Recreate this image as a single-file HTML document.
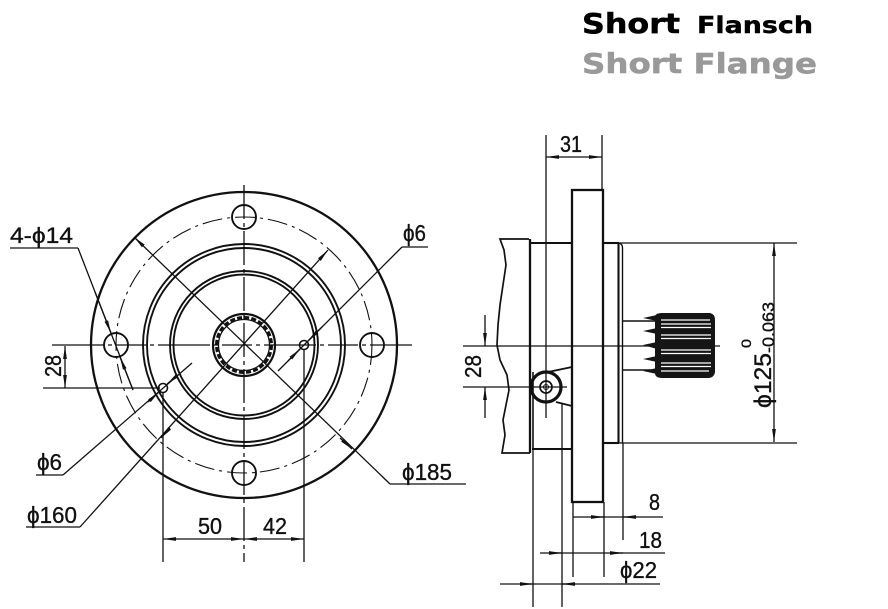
<!DOCTYPE html>
<html>
<head>
<meta charset="utf-8">
<style>
html,body{margin:0;padding:0;background:#fff;}
svg{display:block;}
.t{font-family:"Liberation Sans Narrow","Liberation Sans","DejaVu Sans",sans-serif;fill:#111;stroke:#111;stroke-width:0.35;}
</style>
</head>
<body>
<svg width="888" height="609" viewBox="0 0 888 609" xmlns="http://www.w3.org/2000/svg">
<defs>
<marker id="ar" viewBox="0 0 13 5" refX="13" refY="2.5" markerWidth="13" markerHeight="5" markerUnits="userSpaceOnUse" orient="auto-start-reverse">
<path d="M0,0.6 L13,2.5 L0,4.4z" fill="#111"/>
</marker>
</defs>
<rect width="888" height="609" fill="#fff"/>

<!-- Title -->
<g font-family="'DejaVu Sans','Liberation Sans',sans-serif" font-weight="bold">
<text x="582" y="33" font-size="28" fill="#000" stroke="#000" stroke-width="0.5" textLength="98" lengthAdjust="spacingAndGlyphs">Short</text>
<text x="697" y="33" font-size="23" fill="#000" stroke="#000" stroke-width="0.4" textLength="116" lengthAdjust="spacingAndGlyphs">Flansch</text>
<text x="582" y="73" font-size="28" fill="#999" stroke="#999" stroke-width="0.5" textLength="235" lengthAdjust="spacingAndGlyphs">Short Flange</text>
</g>

<!-- ============ LEFT VIEW ============ -->
<g fill="none" stroke="#111">
<circle cx="244" cy="345" r="153" stroke-width="2.3"/>
<circle cx="244" cy="345" r="128" stroke-width="1.1" stroke-dasharray="20 5 3 5"/>
<circle cx="244" cy="217" r="12" stroke-width="1.9"/>
<circle cx="116" cy="345" r="12" stroke-width="1.9"/>
<circle cx="372" cy="345" r="12" stroke-width="1.9"/>
<circle cx="244" cy="473" r="12" stroke-width="1.9"/>
<circle cx="244" cy="345" r="101" stroke-width="1.9"/>
<circle cx="244" cy="345" r="97" stroke-width="1.9"/>
<circle cx="244" cy="345" r="74" stroke-width="1.9"/>
<circle cx="244" cy="345" r="70.5" stroke-width="1.9"/>
<circle cx="244" cy="345" r="31" stroke-width="2.2"/>
<circle cx="244" cy="345" r="25.5" stroke-width="1.3"/>
<circle cx="244" cy="345" r="27.5" stroke-width="3" stroke-dasharray="5 2.2"/>
<circle cx="304" cy="345" r="4.5" stroke-width="1.6"/>
<circle cx="163" cy="388" r="4.5" stroke-width="1.6"/>
</g>

<g fill="none" stroke="#111" stroke-width="1.3">
<!-- center lines -->
<line x1="244" y1="185" x2="244" y2="562" stroke-dasharray="34 4 4 4"/>
<line x1="52" y1="345" x2="412" y2="345" stroke-dasharray="52 4 4 4 30 4 4 4"/>
<!-- 28 dim -->
<line x1="43" y1="388" x2="160" y2="388"/>
<path d="M65,346 L65,388" marker-start="url(#ar)" marker-end="url(#ar)"/>
<!-- 4-phi14 -->
<line x1="10" y1="248" x2="78" y2="248"/>
<line x1="78" y1="248" x2="133" y2="390"/>
<path d="M95,292 L111,333" marker-end="url(#ar)"/>
<path d="M133,390 L120,357" marker-end="url(#ar)"/>
<!-- phi185 -->
<path d="M134,237 L390,484" marker-start="url(#ar)"/>
<line x1="390" y1="484" x2="466" y2="484"/>
<path d="M340,438 L352,449" marker-end="url(#ar)"/>
<!-- phi160 -->
<path d="M328,250 L80,527" marker-start="url(#ar)"/>
<line x1="26" y1="527" x2="80" y2="527"/>
<path d="M170,428 L161,438" marker-end="url(#ar)"/>
<!-- phi6 upper -->
<line x1="402" y1="247" x2="428" y2="247"/>
<line x1="402" y1="247" x2="278" y2="371"/>
<path d="M322,327 L308,341" marker-end="url(#ar)"/>
<path d="M288,361 L300,349" marker-end="url(#ar)"/>
<!-- phi6 lower -->
<line x1="36" y1="475" x2="63" y2="475"/>
<line x1="63" y1="475" x2="192" y2="363"/>
<path d="M148,402 L159,392" marker-end="url(#ar)"/>
<path d="M178,375 L167,384" marker-end="url(#ar)"/>
<!-- 50 / 42 -->
<line x1="163" y1="392" x2="163" y2="562"/>
<line x1="304" y1="350" x2="304" y2="562"/>
<path d="M163,539 L244,539" marker-start="url(#ar)" marker-end="url(#ar)"/>
<path d="M244,539 L304,539" marker-start="url(#ar)" marker-end="url(#ar)"/>
</g>

<!-- left labels -->
<text class="t" x="10" y="243" font-size="22" textLength="63" lengthAdjust="spacingAndGlyphs">4-ϕ14</text>
<text class="t" x="403" y="241" font-size="23" textLength="23" lengthAdjust="spacingAndGlyphs">ϕ6</text>
<text class="t" x="37" y="470" font-size="23" textLength="25" lengthAdjust="spacingAndGlyphs">ϕ6</text>
<text class="t" x="27" y="523" font-size="23" textLength="50" lengthAdjust="spacingAndGlyphs">ϕ160</text>
<text class="t" x="402" y="480" font-size="23" textLength="50" lengthAdjust="spacingAndGlyphs">ϕ185</text>
<text class="t" x="198" y="534" font-size="23" textLength="24" lengthAdjust="spacingAndGlyphs">50</text>
<text class="t" x="263" y="534" font-size="23" textLength="24" lengthAdjust="spacingAndGlyphs">42</text>
<text class="t" font-size="23" textLength="22" lengthAdjust="spacingAndGlyphs" transform="translate(61,377) rotate(-90)">28</text>

<!-- ============ RIGHT VIEW ============ -->
<g fill="none" stroke="#111">
<!-- housing broken -->
<path d="M529,239 L500,239 L504,250 L506,265 L503,285 L500,305 L498,325 L497,345 L500,360 L507,375 L509,390 L506,405 L503,420 L505,435 L502,453 L530,453" stroke-width="1.7"/>
<line x1="530" y1="239" x2="530" y2="453" stroke-width="2.3"/>
<line x1="533" y1="372" x2="533" y2="449" stroke-width="1.6"/>
<!-- body -->
<line x1="530" y1="243" x2="572" y2="243" stroke-width="2.1"/>
<line x1="532" y1="449" x2="572" y2="449" stroke-width="2.1"/>
<!-- flange -->
<rect x="572" y="190" width="31" height="312" stroke-width="2.3"/>
<!-- pilot -->
<line x1="603" y1="243" x2="619" y2="243" stroke-width="2.1"/>
<line x1="603" y1="443" x2="619" y2="443" stroke-width="2.1"/>
<line x1="618.5" y1="243" x2="618.5" y2="443" stroke-width="2.1"/>
<path d="M619,243 Q622.5,244 622.5,248 L622.5,443" stroke-width="1.4"/>
<!-- pin -->
<circle cx="546" cy="387" r="15" stroke-width="3.2"/>
<circle cx="546" cy="387" r="6" stroke-width="1.7"/>
<circle cx="546" cy="387" r="2.5" stroke-width="1"/>
<line x1="548" y1="372" x2="572" y2="367" stroke-width="1.9"/>
<line x1="556" y1="402" x2="572" y2="406" stroke-width="1.9"/>
</g>

<g fill="none" stroke="#111" stroke-width="1.3">
<!-- shaft -->
<line x1="623" y1="321" x2="655" y2="321" stroke-width="1.6"/>
<line x1="623" y1="370" x2="655" y2="370" stroke-width="1.6"/>
<!-- center line -->
<line x1="463" y1="346" x2="720" y2="346"/>
<line x1="463" y1="387" x2="567" y2="387"/>
<!-- extension lines -->
<line x1="546" y1="135" x2="546" y2="418"/>
<line x1="602" y1="135" x2="602" y2="190"/>
<line x1="619" y1="243" x2="797" y2="243"/>
<line x1="619" y1="443" x2="797" y2="443"/>
<line x1="533" y1="449" x2="533" y2="607"/>
<line x1="562" y1="403" x2="562" y2="607"/>
<line x1="573" y1="502" x2="573" y2="577"/>
<line x1="604" y1="502" x2="604" y2="577"/>
<line x1="623" y1="443" x2="623" y2="540"/>
<!-- 31 -->
<path d="M546,157 L602,157" marker-start="url(#ar)" marker-end="url(#ar)"/>
<!-- 28 right -->
<path d="M485,315 L485,346" marker-end="url(#ar)"/>
<path d="M485,418 L485,387" marker-end="url(#ar)"/>
<!-- phi125 -->
<path d="M774,243 L774,442" marker-start="url(#ar)" marker-end="url(#ar)"/>
<!-- 8 -->
<line x1="573" y1="517" x2="663" y2="517"/>
<path d="M592,517 L604,517" marker-end="url(#ar)"/>
<path d="M635,517 L623,517" marker-end="url(#ar)"/>
<!-- 18 -->
<line x1="540" y1="553" x2="665" y2="553"/>
<path d="M550,553 L562,553" marker-end="url(#ar)"/>
<path d="M611,553 L623,553" marker-end="url(#ar)"/>
<!-- phi22 -->
<line x1="500" y1="584" x2="660" y2="584"/>
<path d="M521,584 L533,584" marker-end="url(#ar)"/>
<path d="M575,584 L562,584" marker-end="url(#ar)"/>
</g>

<!-- spline -->
<g>
<path d="M655,316 Q656,313 662,313 L710,313 Q715,314 715,320 L715,372 Q714,378 708,378 L662,378 Q656,378 655,374 Z" fill="#151515"/>
<path d="M643,318 L657,315 L657,321 Z M643,331 L657,328 L657,334 Z M643,345 L657,342 L657,349 Z M643,359 L657,356 L657,362 Z M643,371 L657,368 L657,374 Z" fill="#151515"/>
<g stroke="#fff" stroke-width="1.3">
<line x1="661" y1="320" x2="710" y2="320"/>
<line x1="661" y1="324" x2="711" y2="324"/>
<line x1="661" y1="327.5" x2="711" y2="327.5"/>
<line x1="661" y1="335" x2="711" y2="335"/>
<line x1="661" y1="338.5" x2="711" y2="338.5"/>
<line x1="661" y1="350" x2="711" y2="350"/>
<line x1="661" y1="353.5" x2="711" y2="353.5"/>
<line x1="661" y1="363" x2="711" y2="363"/>
<line x1="661" y1="366.5" x2="711" y2="366.5"/>
<line x1="661" y1="371" x2="709" y2="371"/>
</g>
</g>

<!-- right labels -->
<text class="t" x="560" y="152" font-size="23" textLength="22" lengthAdjust="spacingAndGlyphs">31</text>
<text class="t" font-size="23" textLength="23" lengthAdjust="spacingAndGlyphs" transform="translate(481,378) rotate(-90)">28</text>
<text class="t" x="649" y="510" font-size="23" textLength="11" lengthAdjust="spacingAndGlyphs">8</text>
<text class="t" x="639" y="548" font-size="23" textLength="23" lengthAdjust="spacingAndGlyphs">18</text>
<text class="t" x="620" y="578" font-size="23" textLength="37" lengthAdjust="spacingAndGlyphs">ϕ22</text>
<text class="t" font-size="24" textLength="55" lengthAdjust="spacingAndGlyphs" transform="translate(771,408) rotate(-90)">ϕ125</text>
<text class="t" font-size="17" textLength="51" lengthAdjust="spacingAndGlyphs" transform="translate(774,353) rotate(-90)">-0.063</text>
<text class="t" font-size="14" textLength="9" lengthAdjust="spacingAndGlyphs" transform="translate(751,348) rotate(-90)">0</text>
</svg>
</body>
</html>
